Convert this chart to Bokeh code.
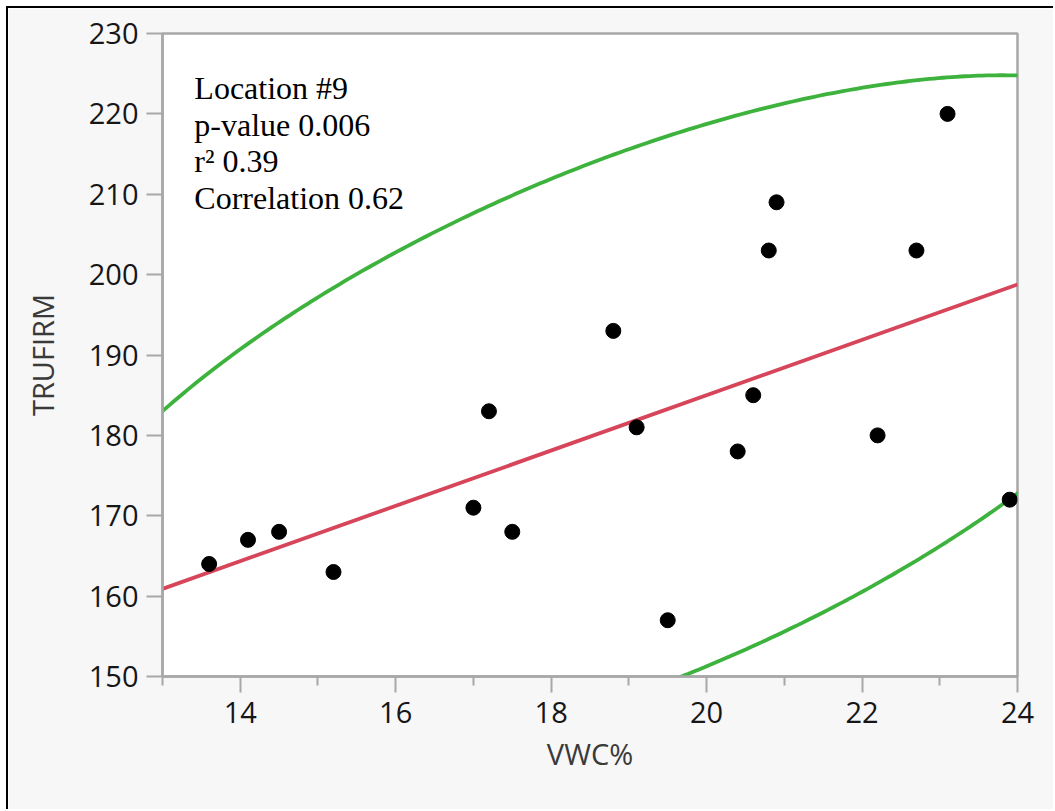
import numpy as np
from bokeh.plotting import figure
from bokeh.models import Range1d, FixedTicker, Label
from bokeh.embed import file_html
from bokeh.resources import INLINE

# ---- data ----
vwc = [13.6, 14.1, 14.5, 15.2, 17.0, 17.2, 17.5, 18.8, 19.1, 19.5,
       20.4, 20.6, 20.8, 20.9, 22.2, 22.7, 23.1, 23.9]
trufirm = [164, 167, 168, 163, 171, 183, 168, 193, 181, 157,
           178, 185, 203, 209, 180, 203, 220, 172]
x_major_ticks = [14, 16, 18, 20, 22, 24]
x_minor_ticks = [13, 15, 17, 19, 21, 23]
y_major_ticks = [150, 160, 170, 180, 190, 200, 210, 220, 230]
x_bounds = [13, 24]
y_bounds = [150, 230]
annotation_lines = ["Location #9", "p-value 0.006", "r\u00b2 0.39", "Correlation 0.62"]
ellipse_level = 0.95

# ---- derived statistics (fit line and bivariate normal density ellipse) ----
xa = np.array(vwc, dtype=float)
ya = np.array(trufirm, dtype=float)
slope, intercept = np.polyfit(xa, ya, 1)
fit_x = np.array(x_bounds, dtype=float)
fit_y = intercept + slope * fit_x

cov = np.cov(xa, ya)
L = np.linalg.cholesky(cov)
c = np.sqrt(-2.0 * np.log(1.0 - ellipse_level))
t = np.linspace(0, 2 * np.pi, 721)
circ = np.vstack([np.cos(t), np.sin(t)])
ell = np.array([[xa.mean()], [ya.mean()]]) + c * (L @ circ)

AXIS_GRAY = "#a8a8a8"
TICK_FONT = "Open Sans"

p = figure(width=1047, height=803,
           x_range=Range1d(*x_bounds), y_range=Range1d(*y_bounds),
           output_backend="svg", toolbar_location=None,
           min_border_left=154, min_border_right=38,
           min_border_top=25, min_border_bottom=135,
           background_fill_color="white", border_fill_color="#f7f7f7")
p.styles = {"margin-left": "6px", "margin-top": "6px",
            "border-left": "2px solid black", "border-top": "2px solid black"}

p.xgrid.visible = False
p.ygrid.visible = False
p.outline_line_color = AXIS_GRAY
p.outline_line_width = 2.5

p.xaxis.ticker = FixedTicker(ticks=x_major_ticks, minor_ticks=x_minor_ticks)
p.yaxis.ticker = FixedTicker(ticks=y_major_ticks, minor_ticks=[])

for ax in (p.xaxis[0], p.yaxis[0]):
    ax.axis_line_color = AXIS_GRAY
    ax.axis_line_width = 2.5
    ax.major_tick_line_color = AXIS_GRAY
    ax.major_tick_line_width = 2
    ax.minor_tick_line_color = AXIS_GRAY
    ax.minor_tick_line_width = 2
    ax.major_tick_in = 0
    ax.minor_tick_in = 0
    ax.major_tick_out = 16
    ax.minor_tick_out = 9
    ax.major_label_text_font = TICK_FONT
    ax.major_label_text_font_size = "29px"
    ax.major_label_text_color = "#161616"
    ax.axis_label_text_font = TICK_FONT
    ax.axis_label_text_font_size = "29px"
    ax.axis_label_text_font_style = "normal"
    ax.axis_label_text_color = "#3a3a3a"

p.xaxis.axis_label = "VWC%"
p.yaxis.axis_label = "TRUFIRM"
p.xaxis.major_label_standoff = 9
p.yaxis.major_label_standoff = 8
p.xaxis.axis_label_standoff = 8
p.yaxis.axis_label_standoff = 24

# density ellipse
p.line(ell[0], ell[1], line_color="#3db33d", line_width=3.8)
# linear fit
p.line(fit_x, fit_y, line_color="#d6455a", line_width=3.8)
# points
p.scatter(vwc, trufirm, size=15, fill_color="black", line_color="black")

# annotation text
for i, txt in enumerate(annotation_lines):
    p.add_layout(Label(x=13.41, y=223.2, x_units="data", y_units="data",
                       y_offset=-36.5 * i, text=txt,
                       text_font="Liberation Serif", text_font_size="32px",
                       text_color="black", text_baseline="alphabetic",
                       text_align="left"))

open("out.html", "w").write(file_html(p, INLINE))
